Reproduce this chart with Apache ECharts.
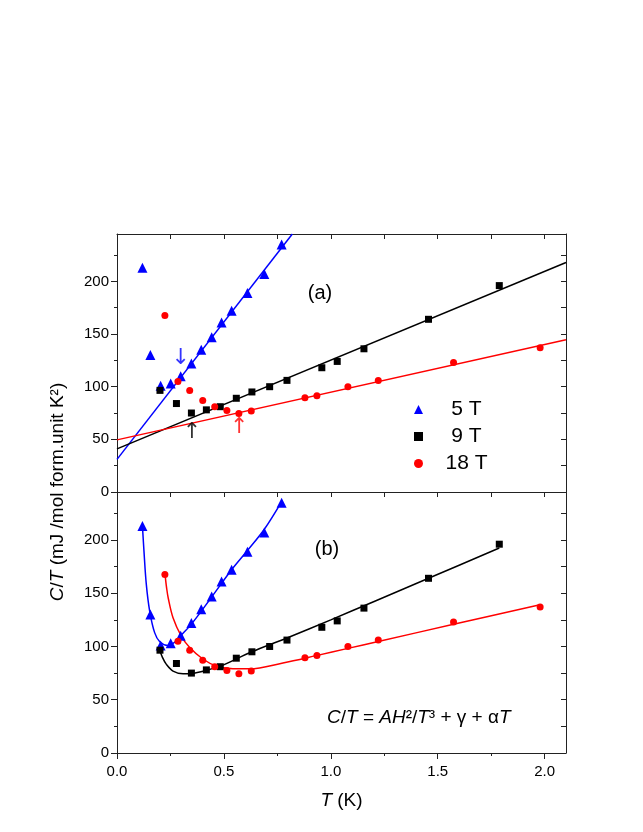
<!DOCTYPE html>
<html><head><meta charset="utf-8">
<script src="https://cdn.jsdelivr.net/npm/echarts@6/dist/echarts.min.js"></script>
<style>html,body{margin:0;padding:0;background:#fff}#c{width:643px;height:832px}</style>
</head><body><div id="c"></div><script>
// ---- data ----
const T5  = [0.119,0.156,0.204,0.251,0.298,0.348,0.394,0.443,0.489,0.536,0.610,0.689,0.770];
const C5  = [213,130,101,103,110,122,135,147,161,172,189,207,235];
const T9  = [0.201,0.278,0.348,0.418,0.483,0.558,0.631,0.714,0.795,0.958,1.030,1.155,1.457,1.788];
const C9  = [96.5,84,75,78,81,89,95,100,106,118,124,136,164,196];
const T18 = [0.224,0.285,0.340,0.401,0.457,0.514,0.570,0.628,0.879,0.935,1.080,1.222,1.574,1.979];
const C18 = [167.5,105,96.5,87,81,77.5,74.5,77,89.5,91.5,100,106,123,137];

// panel (a) linear fits: end points
const fitA5T = [0, 0.82],  fitA5C = [31, 245];
const fitA9T = [0, 2.1],   fitA9C = [41, 218];
const fitA18T = [0, 2.1],  fitA18C = [49.5, 144.5];

// panel (b) fit curves
const fitB5T = [0.119,0.126,0.137,0.153,0.176,0.200,0.238,0.277,0.293,0.348,0.443,0.536,0.610,0.689,0.770];
const fitB5C = [213,190,158.5,133,113,104.5,101,105,109,121,146.5,172,190,210,236];
const fitB9T = [0.200,0.212,0.231,0.262,0.309,0.348,0.418,0.483,0.631,0.795,1.000,1.200,1.457,1.788];
const fitB9C = [96.7,90,83.2,76.9,74.4,74.7,77.6,81.5,95,108,125,142,164,192.4];
const fitB18T = [0.225,0.232,0.240,0.262,0.300,0.340,0.403,0.465,0.542,0.620,0.776,0.932,1.080,1.222,1.574,1.973];
const fitB18C = [167,155,145,127,110,99,88,81.6,79,79,84.5,91.4,98.2,104.7,120.8,139];

// arrows in panel (a)
const arrowT = [0.298, 0.351, 0.572];
const arrowC = [127, 57, 61];
const arrowGlyph = ['↓', '↑', '↑'];

// axis ticks
const xMajor = [0, 0.5, 1.0, 1.5, 2.0];
const xMinor = [0.25, 0.75, 1.25, 1.75];
const xAll = [0.25,0.5,0.75,1.0,1.25,1.5,1.75,2.0];
const yMajor = [0, 50, 100, 150, 200];
const yMinor = [25, 75, 125, 175, 225];
const yAll = [25,50,75,100,125,150,175,200,225];

const names = ['5 T', '9 T', '18 T'];
const colors = ['#0000ff', '#000000', '#ff0000'];
const symbols = ['triangle', 'rect', 'circle'];
const symSizes = [10, 7, 7];

// ---- build ----
const FONT = '"Liberation Sans", Arial, sans-serif';
const AX = '#222';
const zip = (a, b) => a.map((v, i) => [v, b[i]]);

function xAxesFor(g, labels) {
  return [
    { gridIndex: g, type: 'value', min: 0, max: 2.1, position: 'bottom',
      axisLine: { show: true, onZero: false, lineStyle: { color: AX, width: 1 } },
      axisTick: { show: labels, inside: false, length: 6, customValues: xMajor, lineStyle: { color: AX } },
      axisLabel: { show: labels, customValues: xMajor, formatter: v => v.toFixed(1), margin: 11,
        fontSize: 15, color: '#000', fontFamily: FONT },
      splitLine: { show: false },
      name: labels ? '{i|T} (K)' : '', nameLocation: 'middle', nameGap: 38,
      nameTextStyle: { fontSize: 19, color: '#000', fontFamily: FONT,
        rich: { i: { fontStyle: 'italic', fontSize: 19, fontFamily: FONT, color: '#000' } } } },
    { gridIndex: g, type: 'value', min: 0, max: 2.1, position: 'bottom',
      axisLine: { show: false },
      axisTick: { show: labels, inside: false, length: 3, customValues: xMinor, lineStyle: { color: AX } },
      axisLabel: { show: false }, splitLine: { show: false } },
    { gridIndex: g, type: 'value', min: 0, max: 2.1, position: 'top',
      axisLine: { show: true, onZero: false, lineStyle: { color: AX, width: 1 } },
      axisTick: { show: true, inside: true, length: 5, customValues: xAll, lineStyle: { color: AX } },
      axisLabel: { show: false }, splitLine: { show: false } }
  ];
}
function yAxesFor(g) {
  return [
    { gridIndex: g, type: 'value', min: 0, max: 245, position: 'left',
      axisLine: { show: true, onZero: false, lineStyle: { color: AX, width: 1 } },
      axisTick: { show: true, inside: false, length: 6, customValues: yMajor, lineStyle: { color: AX } },
      axisLabel: { show: true, customValues: yMajor, margin: 8, fontSize: 15, color: '#000', fontFamily: FONT },
      splitLine: { show: false } },
    { gridIndex: g, type: 'value', min: 0, max: 245, position: 'left',
      axisLine: { show: false },
      axisTick: { show: true, inside: false, length: 3, customValues: yMinor, lineStyle: { color: AX } },
      axisLabel: { show: false }, splitLine: { show: false } },
    { gridIndex: g, type: 'value', min: 0, max: 245, position: 'right',
      axisLine: { show: true, onZero: false, lineStyle: { color: AX, width: 1 } },
      axisTick: { show: true, inside: true, length: 5, customValues: yAll, lineStyle: { color: AX } },
      axisLabel: { show: false }, splitLine: { show: false } }
  ];
}

const pts = [zip(T5, C5), zip(T9, C9), zip(T18, C18)];
const fitsA = [zip(fitA5T, fitA5C), zip(fitA9T, fitA9C), zip(fitA18T, fitA18C)];
const fitsB = [zip(fitB5T, fitB5C), zip(fitB9T, fitB9C), zip(fitB18T, fitB18C)];

const series = [];
[0, 1].forEach(p => {
  const xi = p * 3, yi = p * 3;
  for (let k = 0; k < 3; k++) {
    series.push({
      name: names[k] + ' fit' + p, type: 'line', xAxisIndex: xi, yAxisIndex: yi,
      data: p === 0 ? fitsA[k] : fitsB[k], showSymbol: false, symbol: 'none',
      smooth: p === 0 ? false : 0.35, lineStyle: { color: colors[k], width: 1.5 }, z: 2, silent: true
    });
  }
  for (let k = 0; k < 3; k++) {
    series.push({
      name: names[k], type: 'scatter', xAxisIndex: xi, yAxisIndex: yi, data: pts[k],
      symbol: symbols[k], symbolSize: symSizes[k], itemStyle: { color: colors[k], opacity: 1 }, z: 3
    });
  }
});
// arrows
series.push({
  name: 'arrows', type: 'scatter', xAxisIndex: 0, yAxisIndex: 0,
  data: arrowT.map((t, i) => ({ value: [t, arrowC[i]], glyph: arrowGlyph[i], col: colors[i] })),
  symbol: 'circle', symbolSize: 1, itemStyle: { color: 'rgba(0,0,0,0)' }, z: 4,
  label: { show: true, position: 'inside', fontSize: 22, fontFamily: '"DejaVu Sans", sans-serif',
    formatter: pr => pr.data.glyph },
  silent: true
});
series[series.length - 1].data.forEach(d => { d.label = { color: d.col }; });

const option = {
  animation: false,
  backgroundColor: '#fff',
  textStyle: { fontFamily: FONT },
  grid: [
    { left: 117, top: 234, width: 449, height: 258 },
    { left: 117, top: 492, width: 449, height: 261 }
  ],
  xAxis: [...xAxesFor(0, false), ...xAxesFor(1, true)],
  yAxis: [...yAxesFor(0), ...yAxesFor(1)],
  legend: {
    orient: 'vertical', left: 414, top: 399, padding: 0, itemGap: 6,
    itemWidth: 9, itemHeight: 9, itemStyle: { opacity: 1 },
    data: names.map((n, i) => ({ name: n, icon: symbols[i] })),
    formatter: n => '{g| }{n|' + n + '}',
    textStyle: { fontFamily: FONT, fontSize: 21, color: '#000',
      rich: { g: { width: 17, fontSize: 21, lineHeight: 22 },
              n: { width: 43, align: 'center', fontSize: 21, lineHeight: 22, fontFamily: FONT, color: '#000' } } },
    selectedMode: false
  },
  graphic: [
    { type: 'text', x: 320, y: 293, style: { text: '(a)', fontSize: 20, fontFamily: FONT, fill: '#000', align: 'center', verticalAlign: 'middle' } },
    { type: 'text', x: 327, y: 549, style: { text: '(b)', fontSize: 20, fontFamily: FONT, fill: '#000', align: 'center', verticalAlign: 'middle' } },
    { type: 'text', x: 327, y: 718, style: {
        text: '{i|C}/{i|T} = {i|AH}²/{i|T}³ + γ + α{i|T}', fontSize: 19, fontFamily: FONT, fill: '#000',
        align: 'left', verticalAlign: 'middle',
        rich: { i: { fontStyle: 'italic', fontSize: 19, fontFamily: FONT, fill: '#000' } } } },
    { type: 'text', x: 58, y: 492, rotation: Math.PI / 2, style: {
        text: '{i|C}/{i|T} (mJ /mol form.unit K²)', fontSize: 19, fontFamily: FONT, fill: '#000',
        align: 'center', verticalAlign: 'middle',
        rich: { i: { fontStyle: 'italic', fontSize: 19, fontFamily: FONT, fill: '#000' } } } }
  ],
  series
};

const chart = echarts.init(document.getElementById('c'), null, { renderer: 'canvas' });
chart.setOption(option);
</script></body></html>
